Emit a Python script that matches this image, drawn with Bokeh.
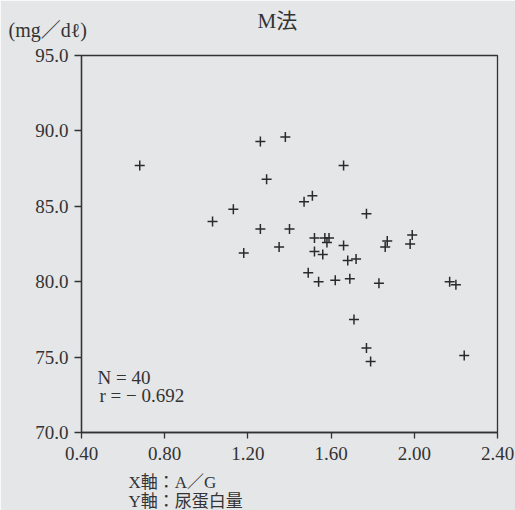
from bokeh.plotting import figure
from bokeh.models import FixedTicker, Label, Range1d, Title
from bokeh.embed import file_html
from bokeh.resources import INLINE

# A/G ratio (X) and urinary protein (Y)
ag_ratio = [0.68, 1.03, 1.13, 1.18, 1.26, 1.26, 1.29, 1.35, 1.38, 1.40,
            1.47, 1.51, 1.49, 1.52, 1.57, 1.59, 1.58, 1.52, 1.56, 1.66,
            1.66, 1.68, 1.72, 1.54, 1.62, 1.69, 1.71, 1.77, 1.79, 1.83,
            1.87, 1.86, 1.99, 1.98, 2.17, 2.20, 2.24, 1.77]
protein = [87.7, 84.0, 84.8, 81.9, 89.3, 83.5, 86.8, 82.3, 89.6, 83.5,
           85.3, 85.7, 80.6, 82.9, 82.9, 82.9, 82.6, 82.0, 81.8, 82.4,
           87.7, 81.4, 81.5, 80.0, 80.1, 80.2, 77.5, 75.6, 74.7, 79.9,
           82.7, 82.3, 83.1, 82.5, 80.0, 79.8, 75.1, 84.5]

x_ticks = [0.4, 0.8, 1.2, 1.6, 2.0, 2.4]
x_tick_labels = ["0.40", "0.80", "1.20", "1.60", "2.00", "2.40"]
y_ticks = [70, 75, 80, 85, 90, 95]
y_tick_labels = ["70.0", "75.0", "80.0", "85.0", "90.0", "95.0"]

title_text = "M法"
unit_text = "(mg／dℓ)"
n_text = "N = 40"
r_text = "r = − 0.692"
x_axis_text = "X軸：A／G"
y_axis_text = "Y軸：尿蛋白量"

BG = "#e5e6e8"
INK = "#333333"
SERIF = "Liberation Serif, Noto Sans CJK JP"

p = figure(width=515, height=510, output_backend="svg", toolbar_location=None,
           x_range=Range1d(0.4, 2.4), y_range=Range1d(70, 95),
           min_border_left=81, min_border_right=18,
           min_border_top=55, min_border_bottom=78)
p.background_fill_color = BG
p.border_fill_color = BG
p.outline_line_color = INK
p.outline_line_width = 1.3
p.grid.visible = False

p.xaxis.ticker = FixedTicker(ticks=x_ticks)
p.xaxis.major_label_overrides = {t: l for t, l in zip(x_ticks, x_tick_labels)}
p.yaxis.ticker = FixedTicker(ticks=y_ticks)
p.yaxis.major_label_overrides = {t: l for t, l in zip(y_ticks, y_tick_labels)}

for ax in (p.xaxis, p.yaxis):
    ax.axis_line_color = INK
    ax.axis_line_width = 1.3
    ax.major_tick_line_color = INK
    ax.major_tick_line_width = 1.3
    ax.minor_tick_line_color = None
    ax.major_tick_in = 0
    ax.major_label_text_font = "Liberation Serif"
    ax.major_label_text_font_size = "19px"
    ax.major_label_text_color = INK
p.xaxis.major_tick_out = 6
p.xaxis.major_label_standoff = 8
p.yaxis.major_tick_out = 7
p.yaxis.major_label_standoff = 6

p.scatter(ag_ratio, protein, marker="cross", size=10, line_width=1.5,
          color="#2a2a2a")

# inside-frame annotations
for text, x, y in ((n_text, 16, 55), (r_text, 18, 37)):
    p.add_layout(Label(x=x, y=y, x_units="screen", y_units="screen",
                       text=text, text_font=SERIF, text_font_size="19px",
                       text_color=INK, text_baseline="middle"))

# top texts as titles
p.add_layout(Title(text=unit_text, align="left", offset=-73, standoff=30,
                   text_font=SERIF, text_font_size="20px",
                   text_font_style="normal", text_color=INK), "above")
p.add_layout(Title(text=title_text, align="left", offset=176, standoff=-62,
                   text_font=SERIF, text_font_size="21px",
                   text_font_style="normal", text_color=INK), "above")

# bottom axis descriptions as stacked titles
p.add_layout(Title(text=x_axis_text, align="left", offset=47, standoff=17,
                   text_font=SERIF, text_font_size="17px",
                   text_font_style="normal", text_color=INK), "below")
p.add_layout(Title(text=y_axis_text, align="left", offset=47, standoff=-21,
                   text_font=SERIF, text_font_size="17px",
                   text_font_style="normal", text_color=INK), "below")

open("out.html", "w").write(file_html(p, INLINE))
